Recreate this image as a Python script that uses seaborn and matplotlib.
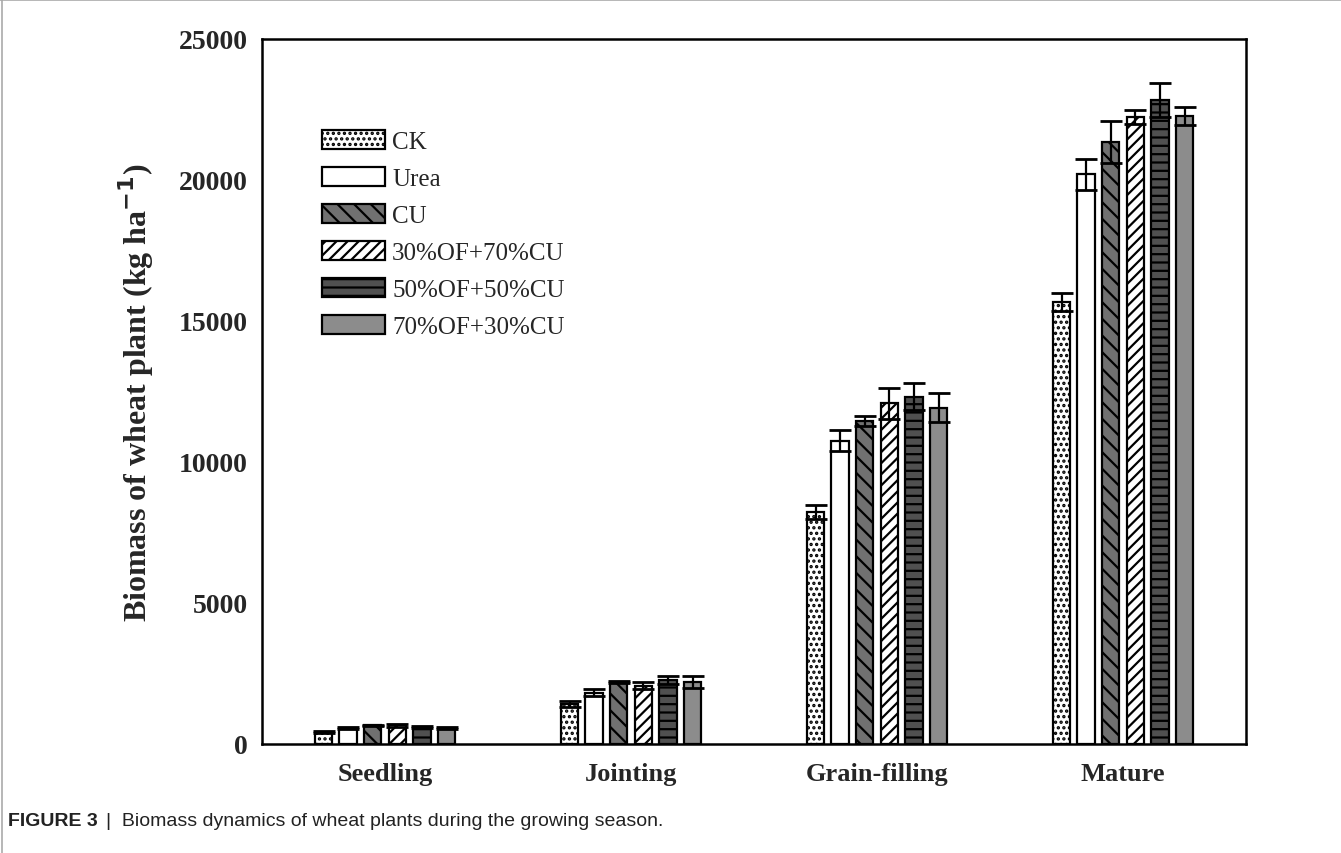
import matplotlib
matplotlib.use("Agg")
import matplotlib.pyplot as plt
import seaborn as sns
import pandas as pd
import numpy as np

# ---- data ----
stages = ["Seedling", "Jointing", "Grain-filling", "Mature"]
treatments = ["CK", "Urea", "CU", "30%OF+70%CU", "50%OF+50%CU", "70%OF+30%CU"]
ck = [430, 1420, 8230, 15680]
urea = [580, 1820, 10750, 20200]
cu = [660, 2200, 11450, 21350]
of30 = [660, 2070, 12080, 22230]
of50 = [600, 2270, 12320, 22840]
of70 = [560, 2200, 11930, 22270]
ck_err = [40, 100, 250, 330]
urea_err = [40, 120, 370, 540]
cu_err = [30, 40, 180, 740]
of30_err = [40, 125, 560, 250]
of50_err = [40, 125, 470, 610]
of70_err = [40, 210, 510, 330]
yticks = [0, 5000, 10000, 15000, 20000, 25000]

means = [ck, urea, cu, of30, of50, of70]
errs = [ck_err, urea_err, cu_err, of30_err, of50_err, of70_err]

fills = ["#ffffff", "#ffffff", "#707070", "#ffffff", "#505050", "#8c8c8c"]
hatches = ["...", "", "\\\\", "///", "--", ""]

rows = []
for t, m, e in zip(treatments, means, errs):
    for s, v, ev in zip(stages, m, e):
        rows.append({"stage": s, "treatment": t, "biomass": v, "err": ev})
df = pd.DataFrame(rows)

sns.set_theme(style="white")
plt.rcParams["font.family"] = ["Liberation Serif", "DejaVu Serif"]
plt.rcParams["hatch.linewidth"] = 1.6

fig = plt.figure(figsize=(13.41, 8.54), dpi=100)
ax = fig.add_axes([262 / 1341, 1 - 745 / 854, (1246 - 262) / 1341, (745 - 40) / 854])

sns.barplot(data=df, x="stage", y="biomass", hue="treatment", order=stages,
            hue_order=treatments, palette=fills, width=0.6, gap=0.3,
            edgecolor="black", linewidth=1.6, errorbar=None, legend=False,
            saturation=1, ax=ax)

for cont, h, t in zip(ax.containers, hatches, treatments):
    sub = df[df.treatment == t].set_index("stage").loc[stages]
    xs = []
    for p in cont.patches:
        p.set_hatch(h)
        p.set_edgecolor("black")
        xs.append(p.get_x() + p.get_width() / 2)
    ax.errorbar(xs, sub["biomass"].values, yerr=sub["err"].values, fmt="none",
                ecolor="black", elinewidth=1.6, capsize=8, capthick=2.0, zorder=5)

ax.set_ylim(0, 25000)
ax.set_xlim(-0.5, 3.5)
ax.set_yticks(yticks)
ax.set_yticklabels([str(v) for v in yticks])
ax.tick_params(axis="both", length=0, labelsize=20)
ax.tick_params(axis="y", pad=10)
ax.tick_params(axis="x", pad=13)
for lab in ax.get_xticklabels():
    lab.set_fontsize(19)
for lab in ax.get_xticklabels() + ax.get_yticklabels():
    lab.set_fontweight("bold")
ax.set_xlabel("")
ax.set_ylabel("Biomass of wheat plant (kg ha$^{\\mathbf{-1}}$)", fontsize=23,
              fontweight="bold")
ax.yaxis.set_label_coords(-0.108, 0.5)
for sp in ax.spines.values():
    sp.set_visible(True)
    sp.set_color("black")
    sp.set_linewidth(1.8)

leg = ax.legend(ax.containers, treatments, loc="upper left",
                bbox_to_anchor=(0.051, 0.885), frameon=False, fontsize=18,
                handlelength=2.5, handleheight=0.8, labelspacing=0.55,
                handletextpad=0.3, borderaxespad=0)

# caption and frame
cy = 1 - 822 / 854
t1 = fig.text(8 / 1341, cy, "FIGURE 3", fontsize=14, fontweight="bold",
              family="Liberation Sans", color="#222222", va="center", ha="left")
fig.canvas.draw()
bb = t1.get_window_extent()
x2 = (bb.x1 + 8) / 1341
fig.text(x2, cy, "|  Biomass dynamics of wheat plants during the growing season.",
         fontsize=14, family="Liberation Sans", color="#222222", va="center", ha="left")
fig.add_artist(plt.Line2D([1.5 / 1341, 1.5 / 1341], [0, 1], color="#aaaaaa", lw=1.2,
                          transform=fig.transFigure))
fig.add_artist(plt.Line2D([0, 1], [1 - 1 / 854, 1 - 1 / 854], color="#aaaaaa", lw=1.2,
                          transform=fig.transFigure))

fig.savefig("out.png", dpi=100)
